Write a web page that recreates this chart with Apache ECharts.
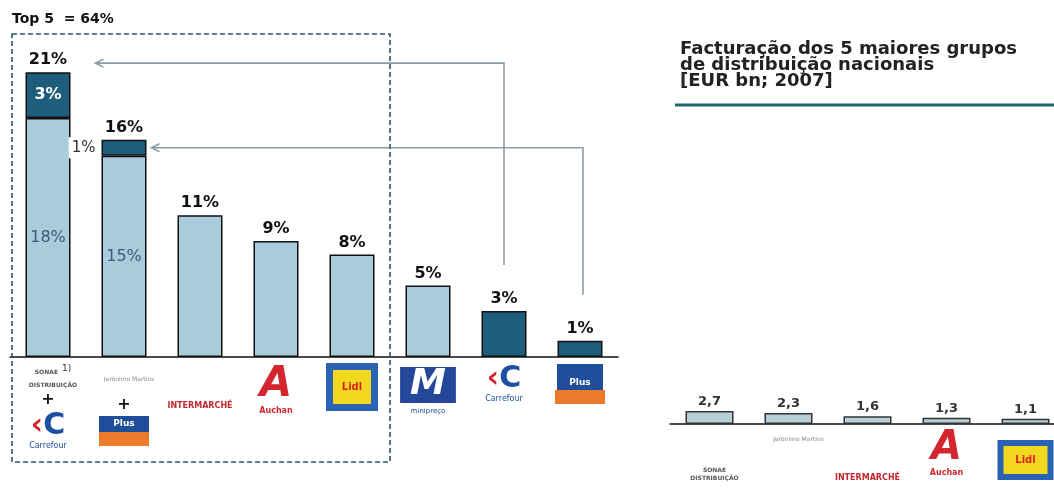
<!DOCTYPE html>
<html><head><meta charset="utf-8">
<script src="https://cdn.jsdelivr.net/npm/echarts@6/dist/echarts.min.js"></script>
<style>html,body{margin:0;padding:0;background:#fff}#c{width:1054px;height:490px}</style>
</head><body><div id="c"></div>
<script>
// ---- data ----
const shareCategories = ['Sonae Distribuição + Carrefour', 'Jerónimo Martins + Plus', 'Intermarché', 'Auchan', 'Lidl', 'Minipreço', 'Carrefour', 'Plus'];
const ownShare = [17.7, 14.9, 10.5, 8.6, 7.6, 5.3, 3.4, 1.2];
const acquiredShare = [3.4, 1.2, 0, 0, 0, 0, 0, 0];
const acquiredFlag = [false, false, false, false, false, false, true, true];
const top5Label = 'Top 5  = 64%';
const revenueCategories = ['Sonae Distribuição', 'Jerónimo Martins', 'Intermarché', 'Auchan', 'Lidl'];
const revenueValues = [2.7, 2.3, 1.6, 1.3, 1.1];
const revenueTitle = 'Facturação dos 5 maiores grupos\nde distribuição nacionais\n[EUR bn; 2007]';

const totalShare = ownShare.map((v, i) => +(v + acquiredShare[i]).toFixed(1));
const pct = v => Math.round(v) + '%';

// ---- styles ----
const FONT = 'DejaVu Sans';
const LIGHT = '#a9cbdb';
const DARK = '#1f5d7c';
const RLIGHT = '#b9cfd8';

const leftLogos = [
  '{sonae|SONAE}{sup|1)}\n{sonae|DISTRIBUIÇÃO}\n{plusSign|+}\n{cfR|‹}{cfB|C}\n{cf|Carrefour}',
  '{jm|Jerónimo Martins}\n{plusSign|+}\n{plusT|Plus}\n{plusB| }',
  '{inter|INTERMARCHÉ}',
  '{aBig|A}\n{auchan|Auchan}',
  '{sp6|\u00a0}\n{lidl|Lidl}',
  '{mBig|M}\n{mini|minipreço}',
  '{cfR|‹}{cfB|C}\n{cf|Carrefour}',
  '{plusT2|Plus}\n{plusB| }'
];
const rightLogos = [
  '{sp36|\u00a0}\n{sonae|SONAE}\n{sonae|DISTRIBUIÇÃO}',
  '{sp6|\u00a0}\n{jmR|Jerónimo Martins}',
  '{sp44|\u00a0}\n{interR|INTERMARCHÉ}',
  '{aBigR|A}\n{auchan|Auchan}',
  '{sp16|\u00a0}\n{lidlR|Lidl}'
];
const rich = {
  sp6: {fontSize: 4, lineHeight: 6},
  sp16: {fontSize: 4, lineHeight: 16},
  sp36: {fontSize: 4, lineHeight: 36},
  sp44: {fontSize: 4, lineHeight: 44},
  sonae: {fontFamily: FONT, fontSize: 6, fontWeight: 'bold', color: '#555', lineHeight: 8, padding: [0, 0, 0, 10]},
  sup: {fontFamily: FONT, fontSize: 9, color: '#333', padding: [0, 0, 8, 4]},
  plusSign: {fontFamily: FONT, fontSize: 16, fontWeight: 'bold', color: '#111', lineHeight: 22},
  cfR: {fontFamily: FONT, fontSize: 30, fontWeight: 'bold', color: '#d3262f', lineHeight: 30},
  cfB: {fontFamily: FONT, fontSize: 30, fontWeight: 'bold', color: '#1f4fa0', lineHeight: 30},
  cf: {fontFamily: FONT, fontSize: 8, color: '#1f4fa0', lineHeight: 10},
  jm: {fontFamily: FONT, fontSize: 6, color: '#888', lineHeight: 30, padding: [0, 0, 0, 10]},
  jmR: {fontFamily: FONT, fontSize: 6, color: '#888', padding: [0, 0, 0, 20]},
  plusT: {fontFamily: FONT, fontSize: 9, fontWeight: 'bold', color: '#fff', backgroundColor: '#1f4e9a', width: 50, height: 16, align: 'center'},
  plusT2: {fontFamily: FONT, fontSize: 9, fontWeight: 'bold', color: '#fff', backgroundColor: '#1f4e9a', width: 46, height: 14, align: 'center', padding: [12, 0, 0, 0]},
  plusB: {backgroundColor: '#ee7a2c', width: 50, height: 14},
  inter: {fontFamily: FONT, fontSize: 8, fontWeight: 'bold', color: '#c4262e', padding: [38, 0, 0, 0]},
  interR: {fontFamily: FONT, fontSize: 8, fontWeight: 'bold', color: '#c4262e'},
  aBig: {fontFamily: FONT, fontSize: 42, fontWeight: 'bold', fontStyle: 'italic', color: '#d3262f', lineHeight: 42},
  auchan: {fontFamily: FONT, fontSize: 8, fontWeight: 'bold', color: '#d3262f', lineHeight: 10},
  lidl: {fontFamily: FONT, fontSize: 10, fontWeight: 'bold', color: '#d8251c', backgroundColor: '#f3d820', borderColor: '#2b63b4', borderWidth: 7, width: 38, height: 34, align: 'center'},
  mBig: {fontFamily: FONT, fontSize: 36, fontWeight: 'bold', fontStyle: 'italic', color: '#fff', backgroundColor: '#24479a', padding: [0, 10, 0, 10], lineHeight: 42},
  mini: {fontFamily: FONT, fontSize: 7, color: '#24479a', lineHeight: 10},
  aBigR: {fontFamily: FONT, fontSize: 40, fontWeight: 'bold', fontStyle: 'italic', color: '#d3262f', lineHeight: 38},
  lidlR: {fontFamily: FONT, fontSize: 10, fontWeight: 'bold', color: '#d8251c', backgroundColor: '#f3d820', borderColor: '#2b63b4', borderWidth: 6, width: 44, height: 28, align: 'center'}
};

const chart = echarts.init(document.getElementById('c'), null, {renderer: 'canvas'});

const option = {
  animation: false,
  backgroundColor: '#fff',
  title: [
    {text: top5Label, left: 12, top: 12, padding: 0, textStyle: {fontFamily: FONT, fontSize: 14, fontWeight: 'bold', color: '#111'}},
    {text: revenueTitle, left: 680, top: 41, padding: 0, textStyle: {fontFamily: FONT, fontSize: 18, fontWeight: 'bold', color: '#222', lineHeight: 16}}
  ],
  grid: [
    {left: 10, width: 608, bottom: 133, top: 33, containLabel: false, outerBoundsMode: 'none'},
    {left: 670, width: 395, bottom: 66, height: 96, containLabel: false, outerBoundsMode: 'none'}
  ],
  xAxis: [
    {type: 'category', gridIndex: 0, data: shareCategories,
     axisLine: {lineStyle: {color: '#111', width: 1.5}}, axisTick: {show: false},
     axisLabel: {interval: 0, margin: 7, formatter: (v, i) => leftLogos[i], rich: rich}},
    {type: 'category', gridIndex: 1, data: revenueCategories,
     axisLine: {lineStyle: {color: '#111', width: 1.5}}, axisTick: {show: false},
     axisLabel: {interval: 0, margin: 6, formatter: (v, i) => rightLogos[i], rich: rich}}
  ],
  yAxis: [
    {type: 'value', gridIndex: 0, min: 0, max: 24, show: false, splitLine: {show: false}},
    {type: 'value', gridIndex: 1, min: 0, max: 20, show: false, splitLine: {show: false}}
  ],
  series: [
    {type: 'bar', name: 'own', stack: 'share', xAxisIndex: 0, yAxisIndex: 0, barWidth: 45,
     itemStyle: {borderColor: '#111', borderWidth: 1.5},
     data: ownShare.map((v, i) => ({
       value: v,
       itemStyle: {color: acquiredFlag[i] ? DARK : LIGHT},
       label: i < 2 ? {show: true, position: 'inside', formatter: p => pct(p.value), fontFamily: FONT, fontSize: 16, color: '#3b5e74'} : {show: false}
     }))},
    {type: 'bar', name: 'acquired', stack: 'share', xAxisIndex: 0, yAxisIndex: 0, barWidth: 45,
     itemStyle: {color: DARK, borderColor: '#111', borderWidth: 1.5},
     data: acquiredShare.map((v, i) => {
       if (!v) return '-';
       if (i === 0) return {value: v, label: {show: true, position: 'inside', formatter: p => pct(p.value), fontFamily: FONT, fontSize: 16, fontWeight: 'bold', color: '#fff'}};
       return {value: v, label: {show: true, position: 'left', distance: 4, formatter: p => pct(p.value), fontFamily: FONT, fontSize: 15, color: '#333', backgroundColor: '#fff', padding: [3, 2, 3, 3]}};
     })},
    {type: 'scatter', name: 'total', xAxisIndex: 0, yAxisIndex: 0, symbolSize: 0, z: 5,
     itemStyle: {opacity: 1},
     data: totalShare,
     label: {show: true, position: 'top', distance: 4, formatter: p => pct(p.value), fontFamily: FONT, fontSize: 16, fontWeight: 'bold', color: '#111', opacity: 1}},
    {type: 'bar', name: 'revenue', xAxisIndex: 1, yAxisIndex: 1, barWidth: 48,
     itemStyle: {color: RLIGHT, borderColor: '#333', borderWidth: 1.5},
     label: {show: true, position: 'top', distance: 3, formatter: p => String(p.value).replace('.', ','), fontFamily: FONT, fontSize: 13, fontWeight: 'bold', color: '#333'},
     data: revenueValues}
  ]
};
chart.setOption(option);

// ---- decorations derived from the axes ----
const px = (i, v) => chart.convertToPixel({xAxisIndex: 0, yAxisIndex: 0}, [i, v]);
const half = 22.5;
const b0 = px(0, totalShare[0]);
const b1Top = px(1, totalShare[1]);
const b1Mid = px(1, ownShare[1] + acquiredShare[1] / 2);
const b4 = px(4, 0), b5 = px(5, 0);
const b6 = px(6, totalShare[6]);
const b7 = px(7, totalShare[7]);
const ARROW = '#8d9ba4';
function arrow(xv, yStart, yEnd, xEnd) {
  return [
    {type: 'polyline', shape: {points: [[xv, yStart], [xv, yEnd], [xEnd, yEnd]]}, style: {stroke: ARROW, lineWidth: 1.6, fill: null}, z: 1},
    {type: 'polyline', shape: {points: [[xEnd + 8, yEnd - 4], [xEnd, yEnd], [xEnd + 8, yEnd + 4]]}, style: {stroke: ARROW, lineWidth: 1.6, fill: null}, z: 1}
  ];
}
const boxLeft = 12;
const boxRight = (b4[0] + b5[0]) / 2;
chart.setOption({
  graphic: [
    {type: 'rect', shape: {x: boxLeft, y: 34, width: boxRight - boxLeft, height: 428}, style: {fill: null, stroke: '#2e5468', lineWidth: 1.6, lineDash: [5, 3]}, z: 2},
    ...arrow(b6[0], b6[1] - 46, b0[1] - 9, b0[0] + half + 25),
    ...arrow(b7[0] + 3, b7[1] - 46, b1Mid[1], b1Top[0] + half + 5),
    {type: 'rect', shape: {x: 675, y: 103.5, width: 379, height: 3}, style: {fill: '#1f6470'}}
  ]
});
</script></body></html>
